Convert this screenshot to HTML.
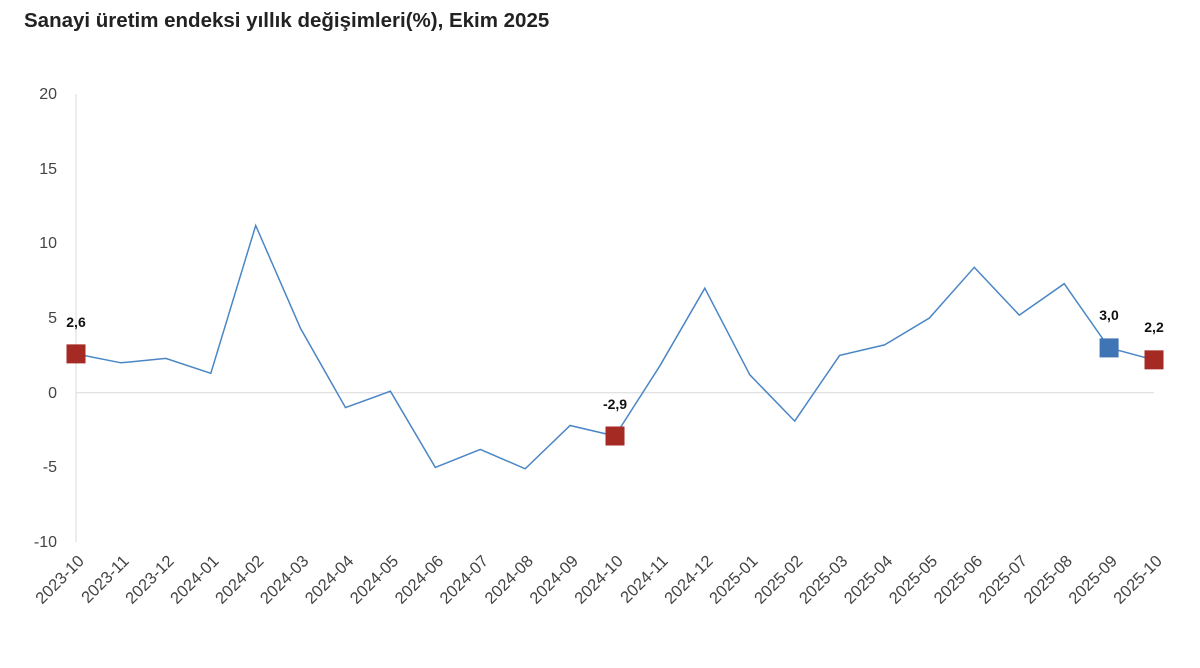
<!DOCTYPE html>
<html><head><meta charset="utf-8"><style>
body{margin:0;background:#fff;}
svg text{font-family:"Liberation Sans",Arial,sans-serif;}
</style></head><body>
<svg width="1200" height="663" viewBox="0 0 1200 663" xmlns="http://www.w3.org/2000/svg">
<rect width="1200" height="663" fill="#fff"/>
<text x="24" y="27" font-size="20.5" font-weight="bold" fill="#222">Sanayi üretim endeksi yıllık değişimleri(%), Ekim 2025</text>
<line x1="76" y1="94" x2="76" y2="542" stroke="#d9d9d9" stroke-width="1"/>
<line x1="76" y1="392.7" x2="1154" y2="392.7" stroke="#d9d9d9" stroke-width="1"/>
<g font-size="16" fill="#444" text-anchor="end">
<text x="57" y="99">20</text>
<text x="57" y="174">15</text>
<text x="57" y="248">10</text>
<text x="57" y="323">5</text>
<text x="57" y="398">0</text>
<text x="57" y="472">-5</text>
<text x="57" y="547">-10</text>
</g>
<g id="xl" font-size="16.5" fill="#444" text-anchor="end"></g>
<polyline id="ln" fill="none" stroke="#4a86c5" stroke-width="1.5"/>
<g id="mk"></g>
<g font-size="14" font-weight="bold" fill="#111" text-anchor="middle">
<text x="76" y="327">2,6</text>
<text x="615" y="409">-2,9</text>
<text x="1109" y="320">3,0</text>
<text x="1154" y="332">2,2</text>
</g>
</svg>
<script>
var d=[2.6,2.0,2.3,1.3,11.2,4.3,-1.0,0.1,-5.0,-3.8,-5.1,-2.2,-2.9,1.8,7.0,1.2,-1.9,2.5,3.2,5.0,8.4,5.2,7.3,3.0,2.2];
var labs=[];for(var i=0;i<25;i++){var m=9+i;var y=2023+Math.floor(m/12);var mm=m%12+1;labs.push(y+"-"+(mm<10?"0":"")+mm);}
function X(i){return 76+i*44.917;}function Y(v){return 392.7-v*14.93;}
var pts=d.map(function(v,i){return X(i).toFixed(1)+","+Y(v).toFixed(1)}).join(" ");
document.getElementById("ln").setAttribute("points",pts);
var ns="http://www.w3.org/2000/svg",xl=document.getElementById("xl");
labs.forEach(function(l,i){var t=document.createElementNS(ns,"text");var x=X(i)+9,y=562;t.setAttribute("x",x);t.setAttribute("y",y);t.setAttribute("transform","rotate(-45 "+x+" "+y+")");t.textContent=l;xl.appendChild(t);});
var mk=document.getElementById("mk");
[[0,"#a52a24"],[12,"#a52a24"],[23,"#3f74b5"],[24,"#a52a24"]].forEach(function(p){var r=document.createElementNS(ns,"rect");r.setAttribute("x",X(p[0])-9.5);r.setAttribute("y",Y(d[p[0]])-9.5);r.setAttribute("width",19);r.setAttribute("height",19);r.setAttribute("fill",p[1]);mk.appendChild(r);});
</script>
</body></html>
